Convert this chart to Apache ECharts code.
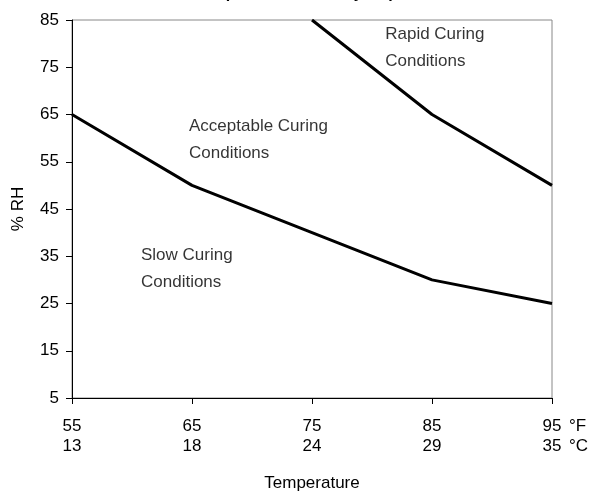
<!DOCTYPE html>
<html>
<head>
<meta charset="utf-8">
<script src="https://cdn.jsdelivr.net/npm/echarts@6/dist/echarts.min.js"></script>
<style>html,body{margin:0;padding:0;background:#fff}#c{width:592px;height:500px}</style>
</head>
<body>
<div id="c"></div>
<script>
var tempF = [55, 65, 75, 85, 95];
var tempC = [13, 18, 24, 29, 35];
var slowLimit = [[55, 65], [65, 50], [75, 40], [85, 30], [95, 25]];
var rapidLimit = [[75, 85], [85, 65], [95, 50]];
var rhTicks = [5, 15, 25, 35, 45, 55, 65, 75, 85];
var regionLabels = [
  {value: [81.1, 79.1], text: 'Rapid Curing\nConditions'},
  {value: [64.75, 59.6], text: 'Acceptable Curing\nConditions'},
  {value: [60.75, 32.3], text: 'Slow Curing\nConditions'}
];
var chartTitle = 'Temperature/Humidity Cup';

var chart = echarts.init(document.getElementById('c'));
var font = 'Liberation Sans, Arial, sans-serif';
chart.setOption({
  animation: false,
  textStyle: {fontFamily: font, color: '#000'},
  title: {
    text: chartTitle, left: 'center', top: -19,
    textStyle: {fontFamily: font, fontSize: 16, fontWeight: 'bold', color: '#000'}
  },
  grid: {left: 72, right: 40, top: 20, bottom: 102, show: true, borderColor: '#888', borderWidth: 1, outerBoundsMode: 'none', containLabel: false},
  xAxis: [{
    type: 'value', min: tempF[0], max: tempF[tempF.length - 1], interval: 10,
    axisLine: {lineStyle: {color: '#000', width: 1}},
    axisTick: {show: true, length: 6, lineStyle: {color: '#000'}},
    splitLine: {show: false},
    axisLabel: {
      fontSize: 17, lineHeight: 20, margin: 18, color: '#000', fontFamily: font,
      formatter: function (v) {
        var i = tempF.indexOf(v);
        return v + '\n' + (i >= 0 ? tempC[i] : '');
      }
    },
    name: '\u00B0F\n\u00B0C', nameLocation: 'end', nameGap: 17,
    nameTextStyle: {fontSize: 17, lineHeight: 20, color: '#000', fontFamily: font, align: 'left', verticalAlign: 'top', padding: [18, 0, 0, 0]}
  }, {
    type: 'value', position: 'bottom', min: tempF[0], max: tempF[tempF.length - 1], interval: 10,
    axisLine: {show: false}, axisTick: {show: false}, axisLabel: {show: false}, splitLine: {show: false},
    name: 'Temperature', nameLocation: 'middle', nameGap: 77,
    nameTextStyle: {fontSize: 17, color: '#000', fontFamily: font}
  }],
  yAxis: {
    type: 'value', min: rhTicks[0], max: rhTicks[rhTicks.length - 1], interval: 10,
    axisLine: {show: true, lineStyle: {color: '#000', width: 1}},
    axisTick: {show: true, length: 6, lineStyle: {color: '#000'}},
    splitLine: {show: false},
    axisLabel: {fontSize: 17, margin: 13, color: '#000', fontFamily: font},
    name: '% RH', nameLocation: 'middle', nameGap: 45, nameRotate: 90,
    nameTextStyle: {fontSize: 17, color: '#000', fontFamily: font}
  },
  series: [
    {type: 'line', data: slowLimit, symbol: 'none', lineStyle: {color: '#000', width: 3}},
    {type: 'line', data: rapidLimit, symbol: 'none', lineStyle: {color: '#000', width: 3}},
    {
      type: 'scatter', symbolSize: 0, silent: true,
      data: regionLabels.map(function (d) { return {value: d.value, label: {formatter: d.text}}; }),
      label: {show: true, position: [0, 0], align: 'left', verticalAlign: 'middle', fontSize: 17, lineHeight: 27, color: '#000', fontFamily: font}
    }
  ]
});
</script>
</body>
</html>
